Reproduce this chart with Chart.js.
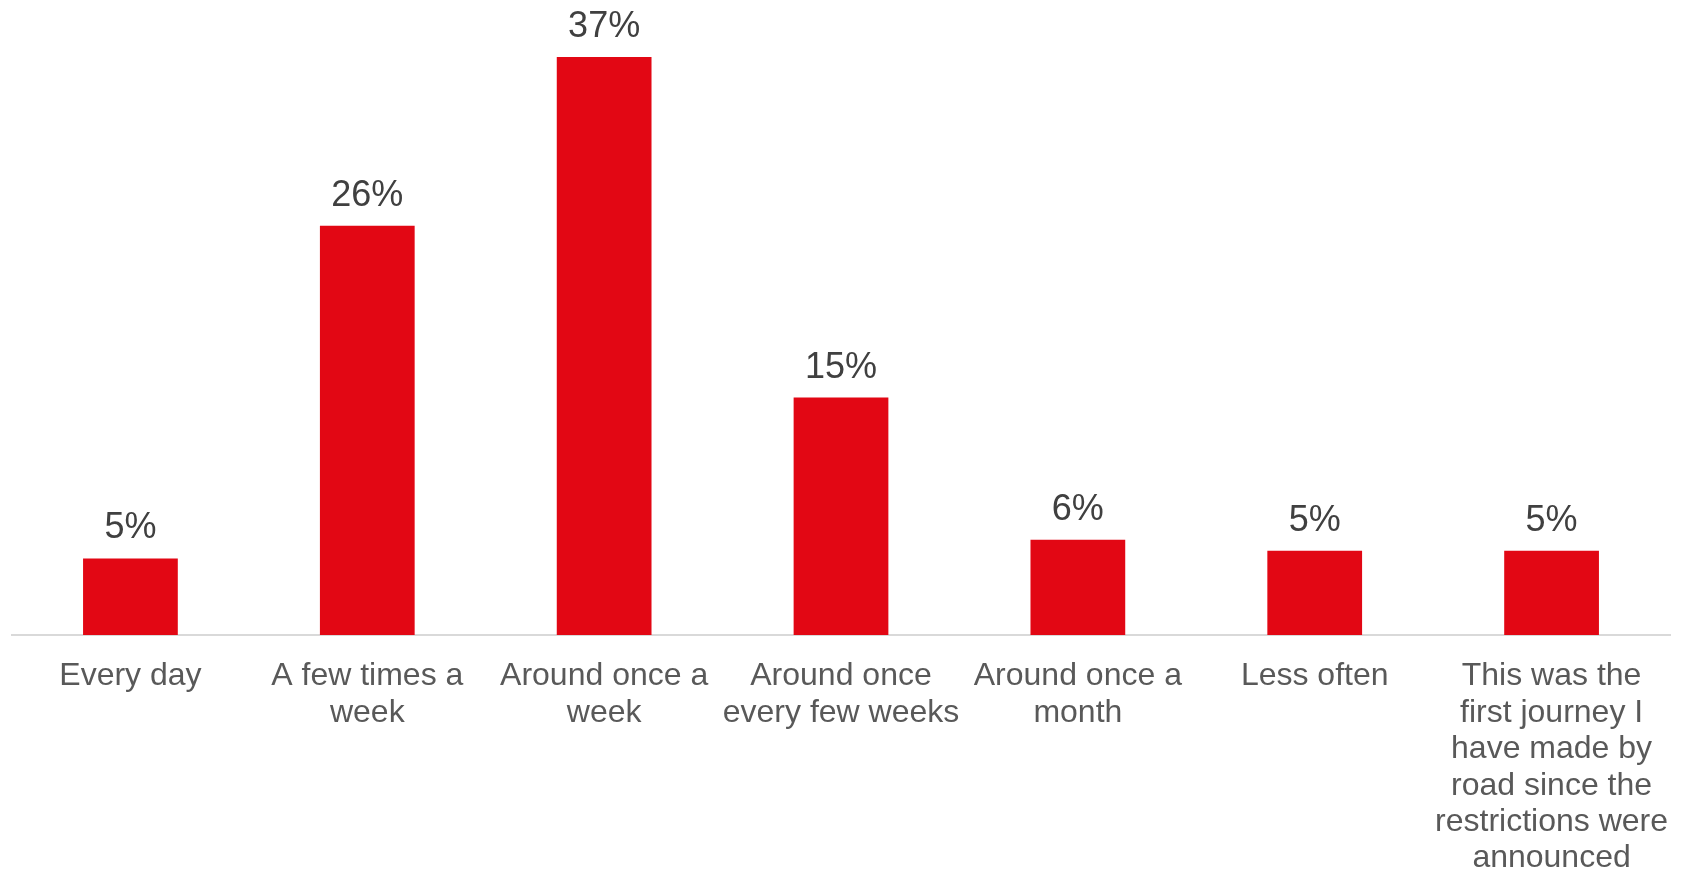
<!DOCTYPE html>
<html>
<head>
<meta charset="utf-8">
<script src="https://cdn.jsdelivr.net/npm/chart.js@4.4.0/dist/chart.umd.min.js"></script>
<style>
html,body{margin:0;padding:0;background:#fff;}
#wrap{width:1681px;height:871px;position:relative;}
</style>
</head>
<body>
<div id="wrap"><canvas id="c"></canvas></div>
<script>
const categories = [
  "Every day",
  ["A few times a", "week"],
  ["Around once a", "week"],
  ["Around once", "every few weeks"],
  ["Around once a", "month"],
  "Less often",
  ["This was the", "first journey I", "have made by", "road since the", "restrictions were", "announced"]
];
const values = [4.9, 26.2, 37.0, 15.2, 6.1, 5.4, 5.4];
const valueLabels = ["5%", "26%", "37%", "15%", "6%", "5%", "5%"];

const barLabels = {
  id: 'barLabels',
  afterDatasetsDraw(chart) {
    const ctx = chart.ctx;
    const meta = chart.getDatasetMeta(0);
    ctx.save();
    ctx.font = '36px "Liberation Sans", Arial, sans-serif';
    ctx.fillStyle = '#404040';
    ctx.textAlign = 'center';
    ctx.textBaseline = 'alphabetic';
    meta.data.forEach((bar, i) => {
      ctx.fillText(valueLabels[i], bar.x, bar.y - 20);
    });
    ctx.restore();
  }
};

new Chart(document.getElementById('c'), {
  type: 'bar',
  data: {
    labels: categories,
    datasets: [{
      data: values,
      backgroundColor: '#E20714',
      barPercentage: 0.4,
      categoryPercentage: 1.0
    }]
  },
  options: {
    responsive: true,
    maintainAspectRatio: false,
    animation: false,
    layout: { padding: { left: 12, right: 11, top: 10, bottom: 0 } },
    plugins: { legend: { display: false }, tooltip: { enabled: false } },
    scales: {
      y: {
        display: false,
        min: 0,
        max: 40
      },
      x: {
        grid: { display: false, drawTicks: false },
        border: { display: true, color: '#d9d9d9', width: 2 },
        afterFit(scale) { scale.height = 236; scale.paddingLeft = 0; scale.paddingRight = 0; },
        ticks: {
          color: '#595959',
          font: { family: '"Liberation Sans", Arial, sans-serif', size: 32, lineHeight: 1.14 },
          padding: 23,
          maxRotation: 0,
          autoSkip: false
        }
      }
    }
  },
  plugins: [barLabels]
});
</script>
</body>
</html>
